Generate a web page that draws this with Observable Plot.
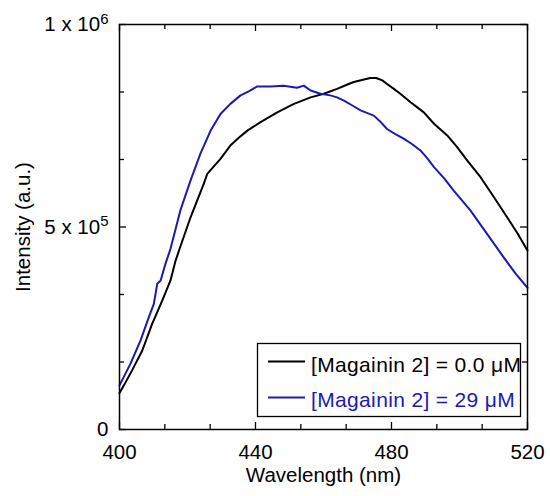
<!DOCTYPE html>
<html>
<head>
<meta charset="utf-8">
<script src="https://cdn.jsdelivr.net/npm/d3@7"></script>
<script src="https://cdn.jsdelivr.net/npm/@observablehq/plot@0.6"></script>
<style>
  html, body { margin: 0; padding: 0; background: #fff; }
  #chart { width: 550px; height: 496px; }
</style>
</head>
<body>
<div id="chart"></div>
<script>
// Series: [Magainin 2] = 0.0 µM (black)
const blackWavelength = [400,401.3,403.7,406.7,409.6,412.6,415,416.5,417.5,420.9,424.8,425.8,429.7,432.6,435,437.6,441.5,446.4,451.3,456.2,460.1,464,466.5,468.9,471.3,473.8,475.5,477.3,478.7,480.7,482.6,485.6,487.5,489.5,492.5,494.5,496.4,499.3,502.3,506.2,510.1,514,517,520];
const blackIntensity = [0.90,1.09,1.46,1.95,2.61,3.19,3.68,4.17,4.42,5.24,6.07,6.31,6.68,7.01,7.2,7.38,7.59,7.83,8.04,8.2,8.29,8.41,8.5,8.58,8.63,8.68,8.68,8.62,8.53,8.41,8.29,8.08,7.96,7.83,7.55,7.4,7.26,6.97,6.64,6.23,5.74,5.24,4.85,4.42];
// Series: [Magainin 2] = 29 µM (blue)
const blueWavelength = [400,403.2,406.2,408.6,410.1,411.1,412.1,413.5,415,417.9,420.9,423.8,426.8,429.7,432.6,435.6,438,440.5,444.4,448.3,452.2,454.2,456.2,459.1,462,464,466,468.5,470.9,474.8,476.5,478.7,481,483.6,486,488.5,490.5,492.5,495.5,498.3,503.2,508.1,513,516.5,520];
const blueIntensity = [1.09,1.62,2.20,2.77,3.10,3.60,3.68,4.09,4.46,5.41,6.15,6.81,7.38,7.79,8.04,8.25,8.35,8.47,8.47,8.49,8.44,8.49,8.37,8.29,8.25,8.2,8.12,8.0,7.88,7.75,7.62,7.42,7.3,7.18,7.05,6.89,6.7,6.48,6.2,5.9,5.41,4.83,4.25,3.85,3.5];
const intensityUnit = 1e5;

const seriesNames = ["[Magainin 2] = 0.0 \u03BCM", "[Magainin 2] = 29 \u03BCM"];
const seriesColors = ["#000000", "#1a1ab2"];

const xMajorTicks = [400, 440, 480, 520];
const xMinorTicks = [413.33, 426.67, 453.33, 466.67, 493.33, 506.67];
const yMajorTicks = [0, 5e5, 1e6];
const yMinorTicks = [1.6667e5, 3.3333e5, 6.6667e5, 8.3333e5];
const yTickLabels = ["0", "5 x 10^5", "1 x 10^6"];

const blackData = blackWavelength.map((w, i) => ({w, v: blackIntensity[i] * intensityUnit, s: seriesNames[0]}));
const blueData = blueWavelength.map((w, i) => ({w, v: blueIntensity[i] * intensityUnit, s: seriesNames[1]}));

const W = 550, H = 496, mL = 119, mR = 23, mT = 24, mB = 67;
const innerW = W - mL - mR, innerH = H - mT - mB;
const majorLen = 7, minorLen = 5;
const FONT = "'Liberation Sans', Arial, sans-serif";
const FS = 20.5;

const chart = Plot.plot({
  width: W, height: H,
  marginLeft: mL, marginRight: mR, marginTop: mT, marginBottom: mB,
  style: {fontFamily: FONT, fontSize: FS + "px", color: "#000", background: "#fff"},
  x: {domain: [400, 520]},
  y: {domain: [0, 1e6]},
  marks: [
    Plot.line(blackData, {x: "w", y: "v", stroke: seriesColors[0], strokeWidth: 2}),
    Plot.line(blueData, {x: "w", y: "v", stroke: seriesColors[1], strokeWidth: 2}),
    // inward ticks, bottom & top
    Plot.tickX(xMajorTicks, {x: d => d, insetTop: innerH - majorLen, stroke: "#000", strokeWidth: 1.3}),
    Plot.tickX(xMajorTicks, {x: d => d, insetBottom: innerH - majorLen, stroke: "#000", strokeWidth: 1.3}),
    Plot.tickX(xMinorTicks, {x: d => d, insetTop: innerH - minorLen, stroke: "#000", strokeWidth: 1.3}),
    Plot.tickX(xMinorTicks, {x: d => d, insetBottom: innerH - minorLen, stroke: "#000", strokeWidth: 1.3}),
    // inward ticks, left & right
    Plot.tickY(yMajorTicks, {y: d => d, insetRight: innerW - majorLen, stroke: "#000", strokeWidth: 1.3}),
    Plot.tickY(yMajorTicks, {y: d => d, insetLeft: innerW - majorLen, stroke: "#000", strokeWidth: 1.3}),
    Plot.tickY(yMinorTicks, {y: d => d, insetRight: innerW - minorLen, stroke: "#000", strokeWidth: 1.3}),
    Plot.tickY(yMinorTicks, {y: d => d, insetLeft: innerW - minorLen, stroke: "#000", strokeWidth: 1.3}),
    Plot.axisX({ticks: xMajorTicks, tickSize: 0, tickPadding: 15, tickFormat: d => String(d), fontSize: FS,
      label: "Wavelength (nm)", labelAnchor: "center", labelArrow: "none", labelOffset: 52}),
    Plot.axisY({ticks: yMajorTicks, tickSize: 0, tickPadding: 11, fontSize: FS,
      tickFormat: d => yTickLabels[yMajorTicks.indexOf(d)],
      label: "Intensity (a.u.)", labelAnchor: "center", labelArrow: "none", labelOffset: 104}),
    Plot.frame({stroke: "#000", strokeWidth: 1.5})
  ]
});

document.getElementById("chart").appendChild(chart);

// superscripts for y tick labels
d3.select(chart).selectAll("text").each(function() {
  const t = d3.select(this);
  const txt = this.textContent;
  if (txt.includes("^")) {
    const [base, exp] = txt.split("^");
    t.text(null);
    t.append("tspan").text(base);
    t.append("tspan").attr("dy", "-0.5em").attr("font-size", "15px").text(exp);
  }
});

// legend box inside the plot
const svg = d3.select(chart);
const lg = svg.append("g").attr("font-family", FONT).attr("font-size", "21px")
  .attr("letter-spacing", "0.35px").attr("text-anchor", "start");
lg.append("rect").attr("x", 257.5).attr("y", 343.5).attr("width", 263).attr("height", 73)
  .attr("fill", "#fff").attr("stroke", "#000").attr("stroke-width", 1.3);
[[361.5, 364.5], [397.5, 400]].forEach(([ly, ty], i) => {
  lg.append("line").attr("x1", 268).attr("x2", 305).attr("y1", ly).attr("y2", ly)
    .attr("stroke", seriesColors[i]).attr("stroke-width", 2);
  lg.append("text").attr("x", 311).attr("y", ty).attr("dy", "0.35em").attr("text-anchor", "start")
    .attr("fill", seriesColors[i]).text(seriesNames[i]);
});
</script>
</body>
</html>
